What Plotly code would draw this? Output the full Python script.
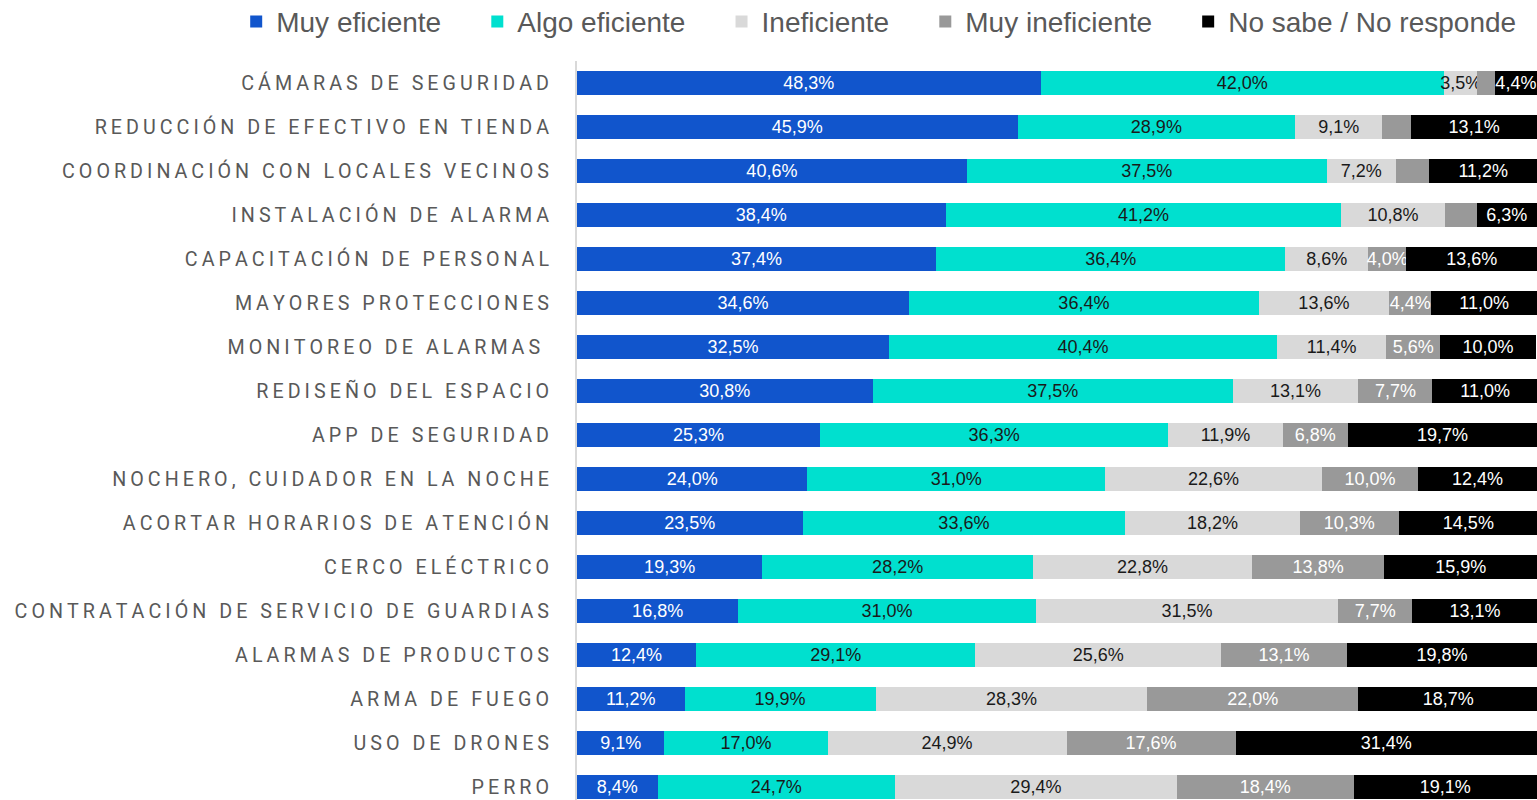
import plotly.graph_objects as go

categories = [
    "CÁMARAS DE SEGURIDAD",
    "REDUCCIÓN DE EFECTIVO EN TIENDA",
    "COORDINACIÓN CON LOCALES VECINOS",
    "INSTALACIÓN DE ALARMA",
    "CAPACITACIÓN DE PERSONAL",
    "MAYORES PROTECCIONES",
    "MONITOREO DE ALARMAS ",
    "REDISEÑO DEL ESPACIO",
    "APP DE SEGURIDAD",
    "NOCHERO, CUIDADOR EN LA NOCHE",
    "ACORTAR HORARIOS DE ATENCIÓN",
    "CERCO ELÉCTRICO",
    "CONTRATACIÓN DE SERVICIO DE GUARDIAS",
    "ALARMAS DE PRODUCTOS",
    "ARMA DE FUEGO",
    "USO DE DRONES",
    "PERRO",
]

muy_eficiente = [48.3, 45.9, 40.6, 38.4, 37.4, 34.6, 32.5, 30.8, 25.3, 24.0, 23.5, 19.3, 16.8, 12.4, 11.2, 9.1, 8.4]
algo_eficiente = [42.0, 28.9, 37.5, 41.2, 36.4, 36.4, 40.4, 37.5, 36.3, 31.0, 33.6, 28.2, 31.0, 29.1, 19.9, 17.0, 24.7]
ineficiente = [3.5, 9.1, 7.2, 10.8, 8.6, 13.6, 11.4, 13.1, 11.9, 22.6, 18.2, 22.8, 31.5, 25.6, 28.3, 24.9, 29.4]
muy_ineficiente = [1.8, 3.0, 3.5, 3.3, 4.0, 4.4, 5.6, 7.7, 6.8, 10.0, 10.3, 13.8, 7.7, 13.1, 22.0, 17.6, 18.4]
no_sabe = [4.4, 13.1, 11.2, 6.3, 13.6, 11.0, 10.0, 11.0, 19.7, 12.4, 14.5, 15.9, 13.1, 19.8, 18.7, 31.4, 19.1]

series_names = ["Muy eficiente", "Algo eficiente", "Ineficiente", "Muy ineficiente", "No sabe / No responde"]
series_values = [muy_eficiente, algo_eficiente, ineficiente, muy_ineficiente, no_sabe]
colors = ["#1155CC", "#00E0CF", "#D9D9D9", "#999999", "#000000"]
text_colors = ["#FFFFFF", "#1A1A1A", "#1A1A1A", "#FFFFFF", "#FFFFFF"]
# labels shown only when the segment is large enough (as in the original)
min_label = [0, 0, 0, 3.8, 0]

SP = "\u2009"
PAD = "\u00a0" * 4


def spaced(s):
    return SP.join(list(s))


def fmt(v):
    return f"{v:.1f}%".replace(".", ",")


ylabels = [spaced(c) for c in categories]

fig = go.Figure()
for i, (name, vals, col, tcol, mn) in enumerate(zip(series_names, series_values, colors, text_colors, min_label)):
    fig.add_trace(go.Bar(
        y=ylabels,
        x=vals,
        name=name + (PAD if i < len(series_names) - 1 else ""),
        orientation="h",
        marker=dict(color=col, line=dict(width=0)),
        text=[fmt(v) if v >= mn else "" for v in vals],
        textposition="inside",
        insidetextanchor="middle",
        constraintext="none",
        textangle=0,
        textfont=dict(family="Liberation Sans, Arial", size=18, color=tcol),
        hoverinfo="x+y+name",
    ))

fig.update_layout(
    barmode="stack",
    bargap=0.455,
    width=1537,
    height=800,
    margin=dict(l=577, r=0, t=61, b=0, autoexpand=False),
    paper_bgcolor="white",
    plot_bgcolor="white",
    showlegend=True,
    legend=dict(
        orientation="h",
        xref="paper", yref="paper",
        x=-0.355, y=1.053,
        xanchor="left", yanchor="middle",
        font=dict(family="Liberation Sans, Arial", size=28, color="#595959"),
        traceorder="normal",
        itemwidth=30,
        bgcolor="rgba(0,0,0,0)",
    ),
    uniformtext=dict(mode=False),
)
fig.update_xaxes(range=[0, 100], showgrid=False, zeroline=False, showticklabels=False, showline=False, fixedrange=True)
fig.update_yaxes(
    autorange=False,
    range=[16.3, -0.5],
    categoryorder="array",
    categoryarray=ylabels,
    showgrid=False,
    zeroline=False,
    showline=True,
    linecolor="#D9D9D9",
    linewidth=2,
    ticks="",
    ticklabelstandoff=22,
    tickfont=dict(family="Roboto", size=19.7, color="#595959"),
)

fig.write_html(
    "out.html",
    config={"displayModeBar": False},
    post_script="document.body.style.margin='0';document.body.style.overflow='hidden';",
)
